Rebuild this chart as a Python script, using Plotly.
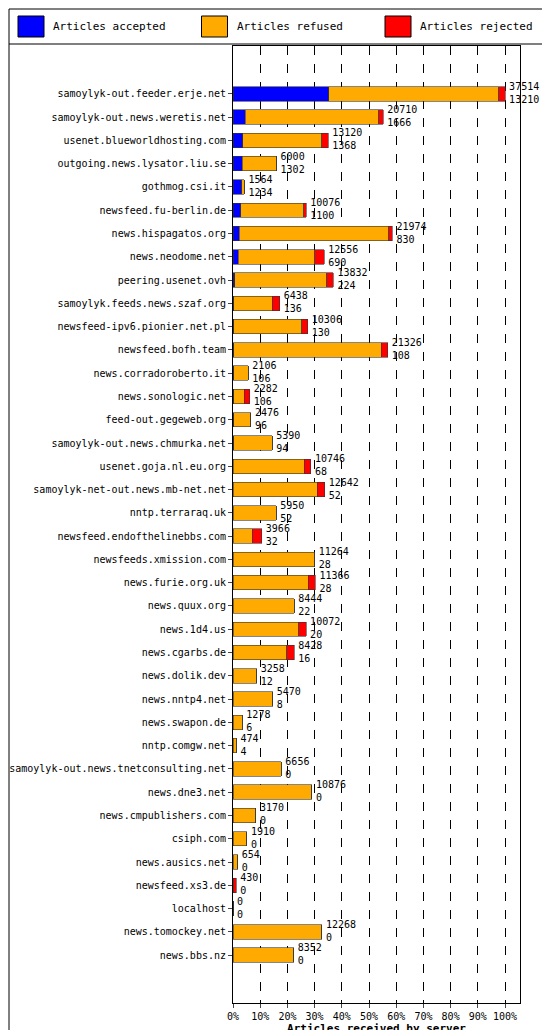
import plotly.graph_objects as go

servers = ["samoylyk-out.feeder.erje.net","samoylyk-out.news.weretis.net","usenet.blueworldhosting.com",
"outgoing.news.lysator.liu.se","gothmog.csi.it","newsfeed.fu-berlin.de","news.hispagatos.org",
"news.neodome.net","peering.usenet.ovh","samoylyk.feeds.news.szaf.org","newsfeed-ipv6.pionier.net.pl",
"newsfeed.bofh.team","news.corradoroberto.it","news.sonologic.net","feed-out.gegeweb.org",
"samoylyk-out.news.chmurka.net","usenet.goja.nl.eu.org","samoylyk-net-out.news.mb-net.net",
"nntp.terraraq.uk","newsfeed.endofthelinebbs.com","newsfeeds.xmission.com","news.furie.org.uk",
"news.quux.org","news.1d4.us","news.cgarbs.de","news.dolik.dev","news.nntp4.net","news.swapon.de",
"nntp.comgw.net","samoylyk-out.news.tnetconsulting.net","news.dne3.net","news.cmpublishers.com",
"csiph.com","news.ausics.net","newsfeed.xs3.de","localhost","news.tomockey.net","news.bbs.nz"]
offered = [37514,20710,13120,6000,1564,10076,21974,12556,13832,6438,10306,21326,2106,2282,2476,5390,
10746,12642,5950,3966,11264,11366,8444,10072,8428,3258,5470,1278,474,6656,10876,3170,1910,654,430,0,12268,8352]
accepted = [13210,1666,1368,1302,1234,1100,830,690,224,136,130,108,106,106,96,94,68,52,52,32,28,28,22,
20,16,12,8,6,4,0,0,0,0,0,0,0,0,0]
rejected = [900,600,900,0,0,300,500,1300,900,1000,800,900,0,700,0,0,900,1000,0,1300,0,1000,0,1000,1000,
0,0,0,0,0,0,0,0,0,430,0,0,0]
legend_names = ["Articles accepted", "Articles refused", "Articles rejected"]
colors = ["#0000ff", "#ffaa00", "#ff0000"]

mx = max(offered)
refused = [o - a - r for o, a, r in zip(offered, accepted, rejected)]
series = [[v / mx * 100 for v in s] for s in (accepted, refused, rejected)]
ptot = [o / mx * 100 for o in offered]

W, H, L, R, T, B = 550, 1030, 225, 38, 38, 35
PW, PH = W - L - R, H - T - B
def px(x): return (x - L) / PW
def py(y): return 1 - (y - T) / PH

fnt = "DejaVu Sans Mono"
fig = go.Figure()
for name, vals, col in zip(legend_names, series, colors):
    fig.add_trace(go.Bar(y=servers, x=vals, orientation="h", name=name, marker_color=col,
                         marker_line_color="#333", marker_line_width=0.6, width=0.62, showlegend=False))
fig.add_trace(go.Scatter(y=servers, x=[p + 1.5 for p in ptot], mode="text",
                         text=[f"{o}<br>{a}" for o, a in zip(offered, accepted)],
                         textposition="middle right", textfont=dict(family=fnt, size=10, color="black"),
                         showlegend=False, hoverinfo="skip", cliponaxis=False))
fig.update_layout(
    width=W, height=H, barmode="stack", paper_bgcolor="white", plot_bgcolor="white",
    margin=dict(l=L, r=R, t=T, b=B, autoexpand=False), showlegend=False,
    font=dict(family=fnt, size=10, color="black"),
    xaxis=dict(range=[0, 105.5], tickvals=list(range(0, 101, 10)),
               ticktext=[f"{v}%" for v in range(0, 101, 10)], showgrid=True, gridcolor="black",
               griddash="dash", gridwidth=1, ticks="outside", ticklen=4, linecolor="black", showline=True,
               mirror=True, zeroline=False, automargin=False,
               title=dict(text="<b>Articles received by server</b>", font=dict(family=fnt, size=11), standoff=0)),
    yaxis=dict(autorange="reversed", showline=True, linecolor="black", mirror=True, ticks="outside",
               ticklen=4, tickfont=dict(family=fnt, size=10), automargin=False),
)
# outer border and legend separator
fig.add_shape(type="rect", xref="paper", yref="paper", x0=px(1), x1=px(549), y0=py(1029), y1=py(1),
              line=dict(color="black", width=1))
fig.add_shape(type="line", xref="paper", yref="paper", x0=px(1), x1=px(549), y0=py(36), y1=py(36),
              line=dict(color="black", width=1))
for i, (name, col) in enumerate(zip(legend_names, colors)):
    x0 = 10 + 183.5 * i
    fig.add_shape(type="rect", xref="paper", yref="paper", x0=px(x0), x1=px(x0 + 26), y0=py(29), y1=py(8),
                  fillcolor=col, line=dict(color="black", width=1))
    fig.add_annotation(xref="paper", yref="paper", x=px(x0 + 33), y=py(19), text=name, showarrow=False,
                       xanchor="left", yanchor="middle", font=dict(family=fnt, size=11))
fig.write_html("out.html")
